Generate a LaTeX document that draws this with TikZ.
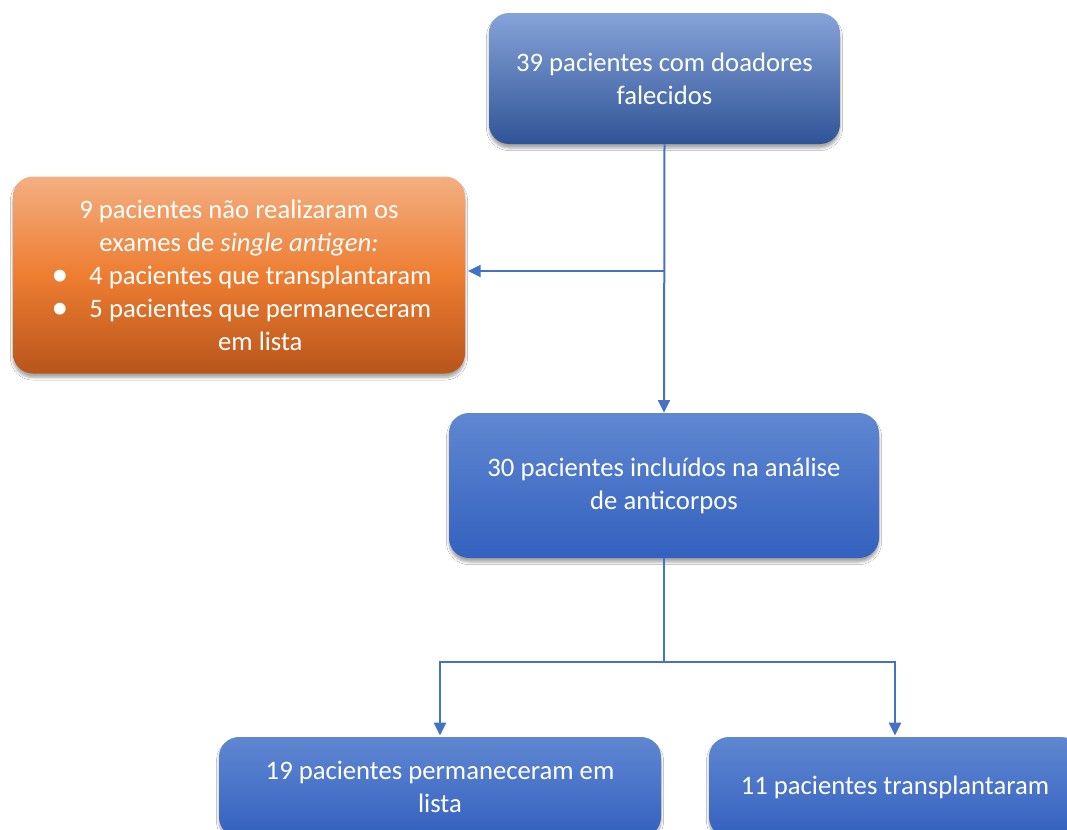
\documentclass[tikz,border=0pt]{standalone}
\usepackage{fontspec}
\setmainfont{Carlito}
\usepackage{tikz}
\usetikzlibrary{arrows.meta, positioning, calc, shadows.blur}
\definecolor{ctop}{HTML}{86A3D9}
\definecolor{cbot}{HTML}{2F5496}
\definecolor{btop}{HTML}{5F87D1}
\definecolor{bbot}{HTML}{3461BF}
\definecolor{otop}{HTML}{F3AF82}
\definecolor{omid}{HTML}{EE7D31}
\definecolor{obot}{HTML}{B8551B}
\definecolor{cline}{HTML}{4472C4}
\tikzset{
  card/.style={rectangle, rounded corners=15pt, text=white, align=center,
               inner sep=0pt, font=\fontsize{20}{24.75}\selectfont,
               blur shadow={shadow xshift=0pt, shadow yshift=-3pt, shadow blur steps=6, shadow opacity=35}},
  topbox/.style={card, top color=ctop, bottom color=cbot},
  bluebox/.style={card, top color=btop, bottom color=bbot},
  orangebox/.style={card, top color=otop, bottom color=obot, middle color=omid},
  link/.style={draw=cline, line width=1.5pt},
  flow/.style={link, -{Triangle[length=9.5pt, width=9pt]}}
}
\newcommand{\orangeitem}[1]{\noindent\makebox[53pt][l]{\hspace{29pt}\raisebox{-1pt}{\fontsize{25}{0}\selectfont\textbullet}}\parbox[t]{265pt}{\centering #1}\par}

\begin{document}
\begin{tikzpicture}[x=0.75pt, y=-0.75pt]
  \useasboundingbox (0,0) rectangle (1067,829);
  \fill[white] (0,0) rectangle (1067,829);
  \clip (0,0) rectangle (1067,829);

  \node[topbox, minimum width=263.25pt, minimum height=98.25pt] (donors) at (664.5,78.5)
    {39 pacientes com doadores\\falecidos};
  \node[orangebox, minimum width=339pt, minimum height=147.75pt, text width=339pt, align=left] (missing) at (239,275)
    {\spaceskip=0pt\xspaceskip=0pt
     {\centering 9 pacientes não realizaram os\\exames de \textit{single antigen:}\par}
     \orangeitem{4 pacientes que transplantaram}
     \orangeitem{5 pacientes que permaneceram\\em lista}};
  \node[bluebox, minimum width=322.5pt, minimum height=108.75pt] (included) at (664,485.5)
    {30 pacientes incluídos na análise\\de anticorpos};
  \node[bluebox, minimum width=331.5pt, minimum height=75pt] (waiting) at (440,787)
    {19 pacientes permaneceram em\\lista};
  \node[bluebox, minimum width=279pt, minimum height=75pt] (grafted) at (895,787)
    {11 pacientes transplantaram};

  \coordinate (split1) at (donors.south |- 0,271);
  \coordinate (split2) at ($(included.south)+(0,104)$);

  \draw[flow] (donors.south) -- (included.north);
  \draw[flow, shorten >=2pt] (split1) -- (split1 -| missing.east);
  \draw[link] (included.south) -- (split2);
  \draw[flow, shorten >=1pt] (split2) -| (waiting.north);
  \draw[flow, shorten >=1pt] (split2) -| (grafted.north);
\end{tikzpicture}
\end{document}
